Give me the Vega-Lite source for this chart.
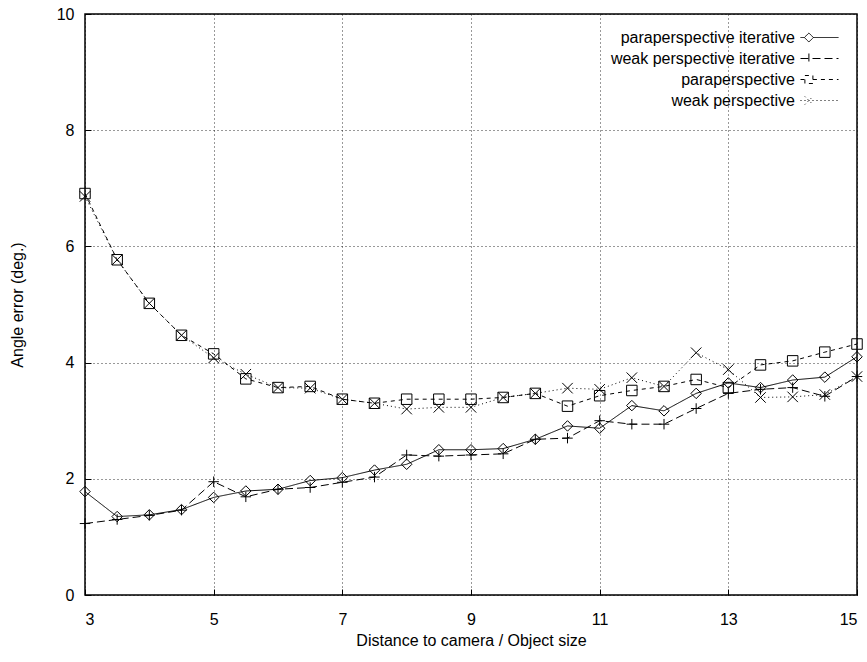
{
  "$schema": "https://vega.github.io/schema/vega-lite/v6.json",
  "width": 772,
  "height": 581,
  "autosize": {"type": "none"},
  "padding": {"left": 85, "top": 14, "right": 10, "bottom": 67},
  "background": "#ffffff",
  "config": {
    "font": "Liberation Sans",
    "view": {"stroke": "#000", "strokeWidth": 1.5},
    "axis": {
      "labelFont": "Liberation Sans", "labelFontSize": 16, "labelColor": "#000",
      "titleFont": "Liberation Sans", "titleFontSize": 16, "titleFontWeight": "normal", "titleColor": "#000",
      "domain": false, "grid": true, "gridColor": "#000", "gridDash": [1, 3], "gridOpacity": 0.8, "gridWidth": 1,
      "ticks": true, "tickColor": "#000", "tickSize": -6, "tickWidth": 1, "labelPadding": 17
    }
  },
  "data": {
    "values": [
      {"s": "paraperspective iterative", "x": 3, "y": 1.78},
      {"s": "paraperspective iterative", "x": 3.5, "y": 1.35},
      {"s": "paraperspective iterative", "x": 4, "y": 1.38},
      {"s": "paraperspective iterative", "x": 4.5, "y": 1.47},
      {"s": "paraperspective iterative", "x": 5, "y": 1.68},
      {"s": "paraperspective iterative", "x": 5.5, "y": 1.79},
      {"s": "paraperspective iterative", "x": 6, "y": 1.82},
      {"s": "paraperspective iterative", "x": 6.5, "y": 1.97},
      {"s": "paraperspective iterative", "x": 7, "y": 2.02},
      {"s": "paraperspective iterative", "x": 7.5, "y": 2.15},
      {"s": "paraperspective iterative", "x": 8, "y": 2.25},
      {"s": "paraperspective iterative", "x": 8.5, "y": 2.5},
      {"s": "paraperspective iterative", "x": 9, "y": 2.5},
      {"s": "paraperspective iterative", "x": 9.5, "y": 2.52},
      {"s": "paraperspective iterative", "x": 10, "y": 2.68},
      {"s": "paraperspective iterative", "x": 10.5, "y": 2.91},
      {"s": "paraperspective iterative", "x": 11, "y": 2.87},
      {"s": "paraperspective iterative", "x": 11.5, "y": 3.26},
      {"s": "paraperspective iterative", "x": 12, "y": 3.17},
      {"s": "paraperspective iterative", "x": 12.5, "y": 3.47},
      {"s": "paraperspective iterative", "x": 13, "y": 3.65},
      {"s": "paraperspective iterative", "x": 13.5, "y": 3.57},
      {"s": "paraperspective iterative", "x": 14, "y": 3.7},
      {"s": "paraperspective iterative", "x": 14.5, "y": 3.75},
      {"s": "paraperspective iterative", "x": 15, "y": 4.1},
      {"s": "weak perspective iterative", "x": 3, "y": 1.23},
      {"s": "weak perspective iterative", "x": 3.5, "y": 1.3},
      {"s": "weak perspective iterative", "x": 4, "y": 1.37},
      {"s": "weak perspective iterative", "x": 4.5, "y": 1.46},
      {"s": "weak perspective iterative", "x": 5, "y": 1.95},
      {"s": "weak perspective iterative", "x": 5.5, "y": 1.69},
      {"s": "weak perspective iterative", "x": 6, "y": 1.82},
      {"s": "weak perspective iterative", "x": 6.5, "y": 1.85},
      {"s": "weak perspective iterative", "x": 7, "y": 1.94},
      {"s": "weak perspective iterative", "x": 7.5, "y": 2.03},
      {"s": "weak perspective iterative", "x": 8, "y": 2.41},
      {"s": "weak perspective iterative", "x": 8.5, "y": 2.39},
      {"s": "weak perspective iterative", "x": 9, "y": 2.41},
      {"s": "weak perspective iterative", "x": 9.5, "y": 2.43},
      {"s": "weak perspective iterative", "x": 10, "y": 2.68},
      {"s": "weak perspective iterative", "x": 10.5, "y": 2.7},
      {"s": "weak perspective iterative", "x": 11, "y": 3.0},
      {"s": "weak perspective iterative", "x": 11.5, "y": 2.94},
      {"s": "weak perspective iterative", "x": 12, "y": 2.94},
      {"s": "weak perspective iterative", "x": 12.5, "y": 3.21},
      {"s": "weak perspective iterative", "x": 13, "y": 3.47},
      {"s": "weak perspective iterative", "x": 13.5, "y": 3.54},
      {"s": "weak perspective iterative", "x": 14, "y": 3.57},
      {"s": "weak perspective iterative", "x": 14.5, "y": 3.42},
      {"s": "weak perspective iterative", "x": 15, "y": 3.76},
      {"s": "paraperspective", "x": 3, "y": 6.91},
      {"s": "paraperspective", "x": 3.5, "y": 5.77},
      {"s": "paraperspective", "x": 4, "y": 5.02},
      {"s": "paraperspective", "x": 4.5, "y": 4.47},
      {"s": "paraperspective", "x": 5, "y": 4.15},
      {"s": "paraperspective", "x": 5.5, "y": 3.72},
      {"s": "paraperspective", "x": 6, "y": 3.57},
      {"s": "paraperspective", "x": 6.5, "y": 3.59},
      {"s": "paraperspective", "x": 7, "y": 3.37},
      {"s": "paraperspective", "x": 7.5, "y": 3.3},
      {"s": "paraperspective", "x": 8, "y": 3.37},
      {"s": "paraperspective", "x": 8.5, "y": 3.37},
      {"s": "paraperspective", "x": 9, "y": 3.37},
      {"s": "paraperspective", "x": 9.5, "y": 3.4},
      {"s": "paraperspective", "x": 10, "y": 3.47},
      {"s": "paraperspective", "x": 10.5, "y": 3.25},
      {"s": "paraperspective", "x": 11, "y": 3.43},
      {"s": "paraperspective", "x": 11.5, "y": 3.52},
      {"s": "paraperspective", "x": 12, "y": 3.59},
      {"s": "paraperspective", "x": 12.5, "y": 3.71},
      {"s": "paraperspective", "x": 13, "y": 3.57},
      {"s": "paraperspective", "x": 13.5, "y": 3.96},
      {"s": "paraperspective", "x": 14, "y": 4.03},
      {"s": "paraperspective", "x": 14.5, "y": 4.18},
      {"s": "paraperspective", "x": 15, "y": 4.32},
      {"s": "weak perspective", "x": 3, "y": 6.86},
      {"s": "weak perspective", "x": 3.5, "y": 5.77},
      {"s": "weak perspective", "x": 4, "y": 5.02},
      {"s": "weak perspective", "x": 4.5, "y": 4.47},
      {"s": "weak perspective", "x": 5, "y": 4.08},
      {"s": "weak perspective", "x": 5.5, "y": 3.8},
      {"s": "weak perspective", "x": 6, "y": 3.57},
      {"s": "weak perspective", "x": 6.5, "y": 3.56},
      {"s": "weak perspective", "x": 7, "y": 3.37},
      {"s": "weak perspective", "x": 7.5, "y": 3.3},
      {"s": "weak perspective", "x": 8, "y": 3.2},
      {"s": "weak perspective", "x": 8.5, "y": 3.23},
      {"s": "weak perspective", "x": 9, "y": 3.23},
      {"s": "weak perspective", "x": 9.5, "y": 3.4},
      {"s": "weak perspective", "x": 10, "y": 3.47},
      {"s": "weak perspective", "x": 10.5, "y": 3.56},
      {"s": "weak perspective", "x": 11, "y": 3.54},
      {"s": "weak perspective", "x": 11.5, "y": 3.74},
      {"s": "weak perspective", "x": 12, "y": 3.59},
      {"s": "weak perspective", "x": 12.5, "y": 4.17},
      {"s": "weak perspective", "x": 13, "y": 3.88},
      {"s": "weak perspective", "x": 13.5, "y": 3.4},
      {"s": "weak perspective", "x": 14, "y": 3.41},
      {"s": "weak perspective", "x": 14.5, "y": 3.45},
      {"s": "weak perspective", "x": 15, "y": 3.76}
    ]
  },
  "encoding": {
    "x": {"field": "x", "type": "quantitative", "scale": {"domain": [3, 15], "nice": false, "zero": false},
      "axis": {"values": [3, 5, 7, 9, 11, 13, 15], "title": "Distance to camera / Object size", "labelPadding": 22, "titlePadding": 5}},
    "y": {"field": "y", "type": "quantitative", "scale": {"domain": [0, 10], "nice": false},
      "axis": {"values": [0, 2, 4, 6, 8, 10], "title": "Angle error (deg.)", "titlePadding": 31}}
  },
  "layer": [
    {
      "mark": {"type": "line", "color": "#000", "strokeWidth": 1},
      "encoding": {
        "strokeDash": {
          "field": "s", "type": "nominal",
          "scale": {"domain": ["paraperspective iterative", "weak perspective iterative", "paraperspective", "weak perspective"],
            "range": [[1, 0], [8, 4], [4, 4], [1, 3]]},
          "legend": {
            "orient": "none", "legendX": 505, "legendY": 13, "title": null,
            "labelFont": "Liberation Sans", "labelFontSize": 16, "labelColor": "#000",
            "labelAlign": "right", "labelOffset": -35, "symbolOffset": 219, "labelLimit": 400,
            "symbolSize": 400, "symbolStrokeWidth": 1, "symbolStrokeColor": "#000", "symbolFillColor": "transparent",
            "rowPadding": 2, "padding": 0,
            "encode": {
              "symbols": {
                "update": {
                  "shape": {"signal": "datum.value === 'paraperspective iterative' ? 'M-1.9,0L-1.51,0M-0.61,0L1.9,0M-1.51,0L-1.06,-0.45L-0.61,0L-1.06,0.45Z' : datum.value === 'weak perspective iterative' ? 'M-1.9,0L1.9,0M-1.06,-0.5L-1.06,0.5' : datum.value === 'paraperspective' ? 'M-1.9,0L-1.46,0M-0.66,0L1.9,0M-1.46,-0.4L-0.66,-0.4L-0.66,0.4L-1.46,0.4Z' : 'M-1.9,0L1.9,0M-1.46,-0.4L-0.66,0.4M-1.46,0.4L-0.66,-0.4'"}
                }
              }
            }
          }
        }
      }
    },
    {
      "mark": {"type": "point", "color": "#000", "filled": false, "strokeWidth": 1, "size": 110, "opacity": 1},
      "encoding": {
        "shape": {
          "condition": [
            {"test": "datum.s === 'paraperspective iterative'", "value": "diamond"},
            {"test": "datum.s === 'weak perspective iterative'", "value": "M-1,0L1,0M0,-1L0,1"},
            {"test": "datum.s === 'paraperspective'", "value": "square"}
          ],
          "value": "M-1,-1L1,1M-1,1L1,-1"
        }
      }
    }
  ]
}
